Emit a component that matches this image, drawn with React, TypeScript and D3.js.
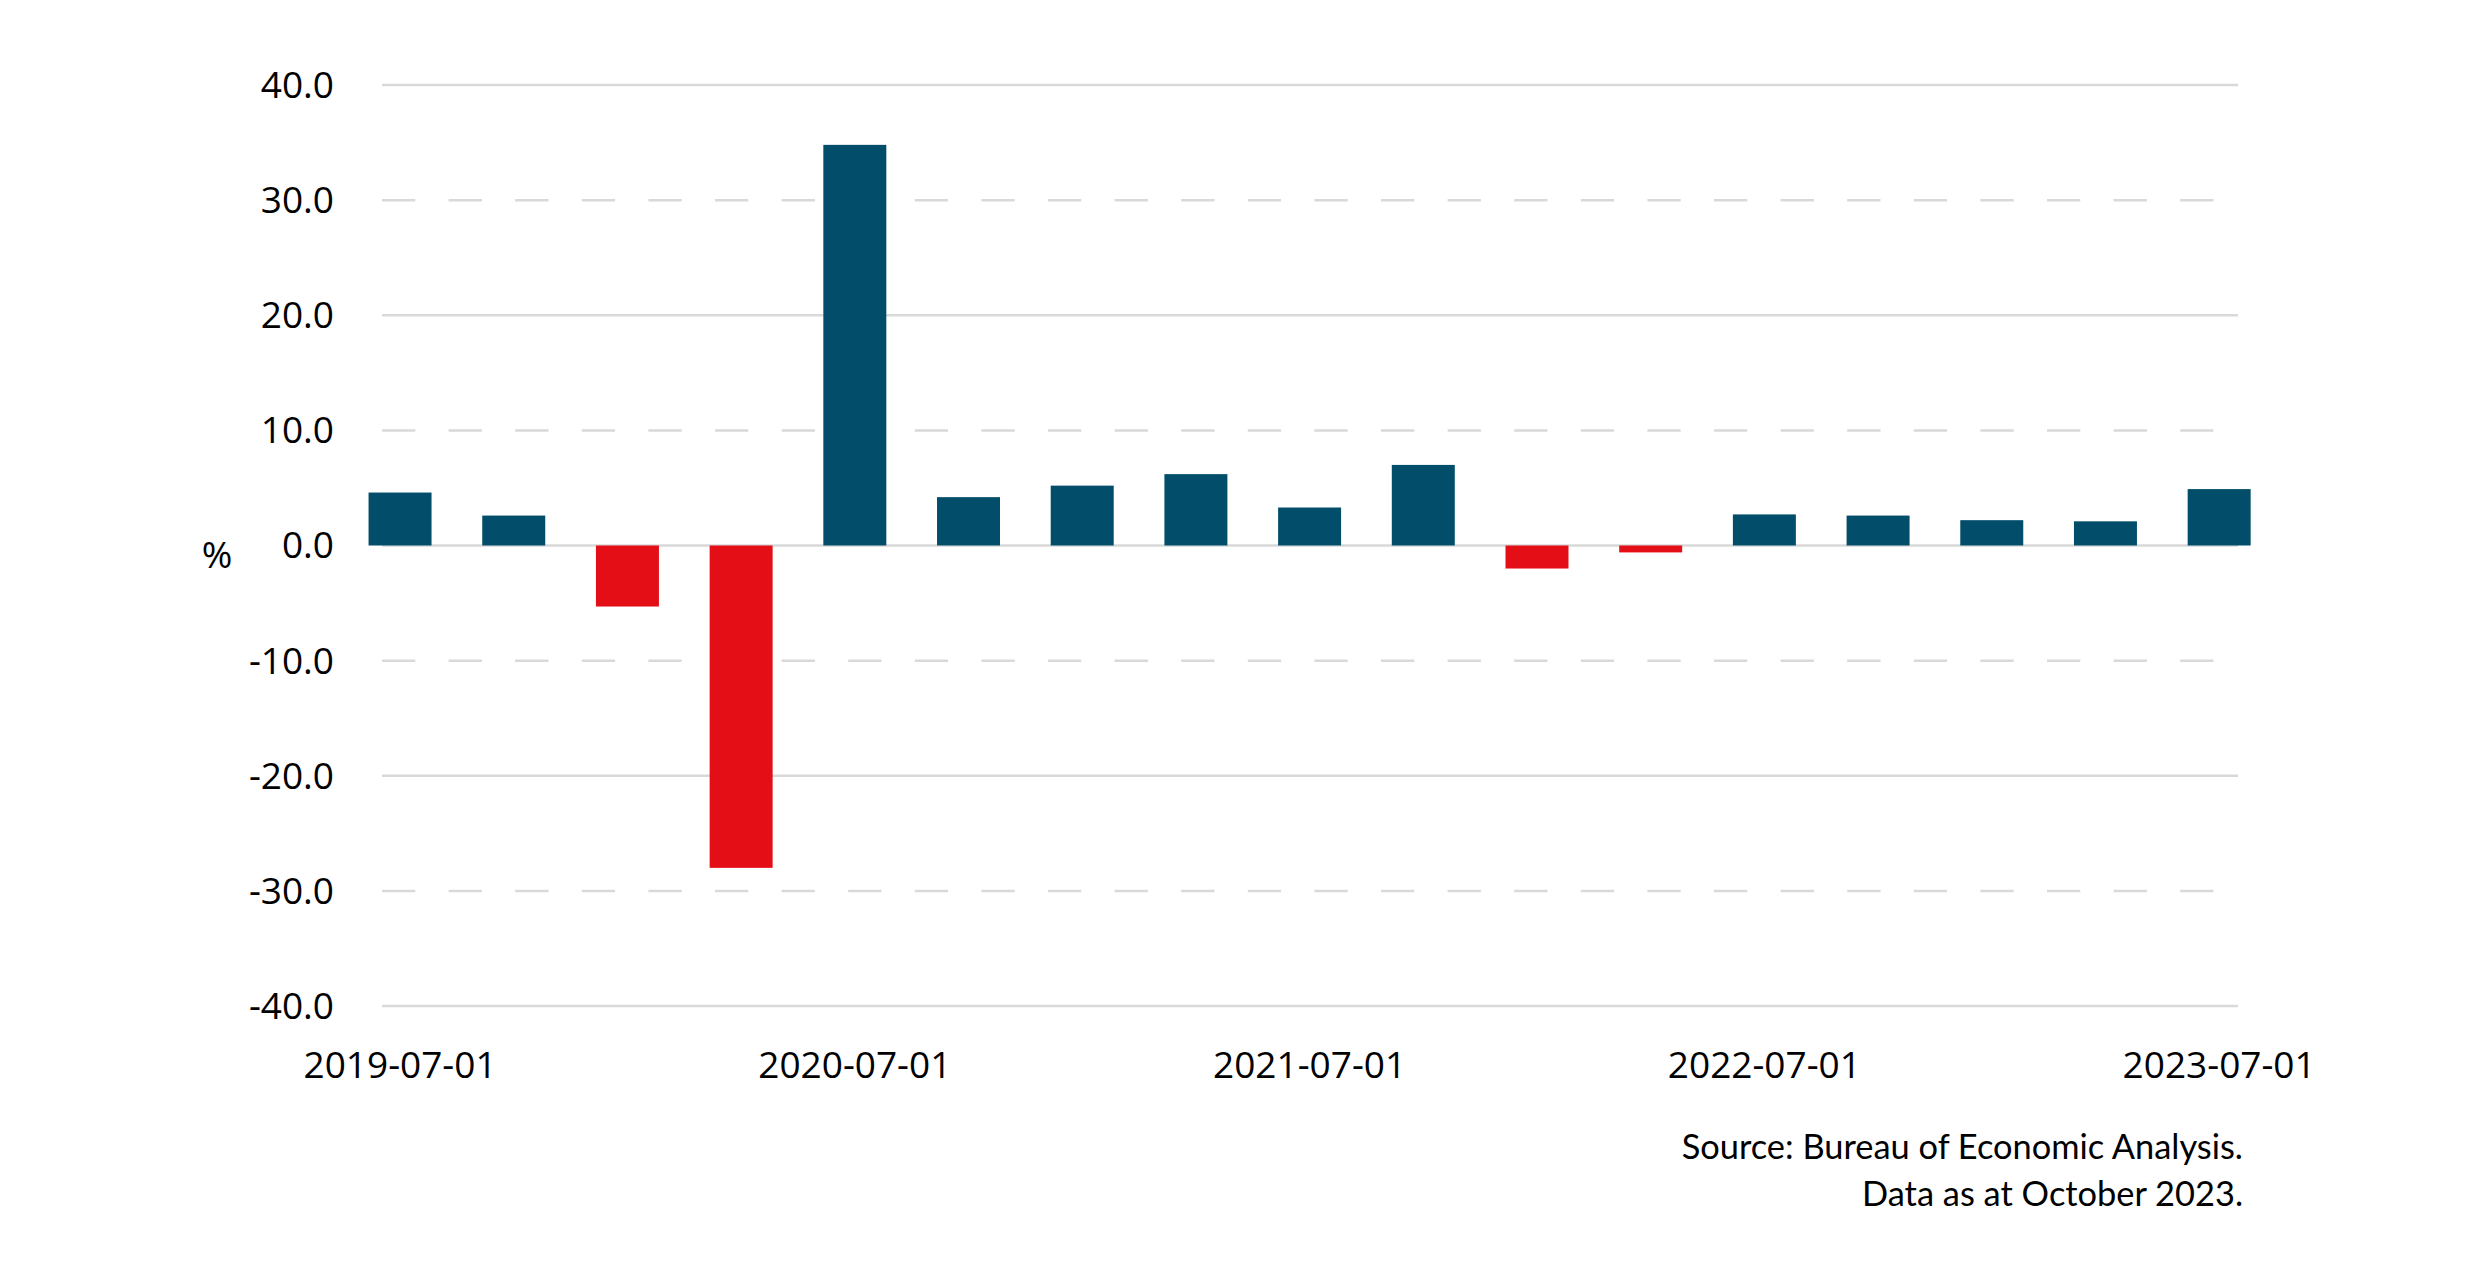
import React from "react";
import * as d3 from "d3";

const dates = [
  "2019-07-01", "2019-10-01", "2020-01-01", "2020-04-01", "2020-07-01", "2020-10-01",
  "2021-01-01", "2021-04-01", "2021-07-01", "2021-10-01", "2022-01-01", "2022-04-01",
  "2022-07-01", "2022-10-01", "2023-01-01", "2023-04-01", "2023-07-01",
];
const growth = [4.6, 2.6, -5.3, -28.0, 34.8, 4.2, 5.2, 6.2, 3.3, 7.0, -2.0, -0.6, 2.7, 2.6, 2.2, 2.1, 4.9];
const xTickLabels = ["2019-07-01", "2020-07-01", "2021-07-01", "2022-07-01", "2023-07-01"];
const yTicks = [40, 30, 20, 10, 0, -10, -20, -30, -40];
const dashedTicks = [30, 10, -10, -30];
const sourceLines = ["Source: Bureau of Economic Analysis.", "Data as at October 2023."];

const W = 2480;
const H = 1265;
const FONT = "'Open Sans', 'Noto Sans', sans-serif";

export default function App() {
  const x = d3.scaleBand<string>().domain(dates).range([343.2, 2276]).paddingInner(0.446).paddingOuter(0.223);
  const y = d3.scaleLinear().domain([-40, 40]).range([1006, 85]);
  const gridX0 = 382;
  const gridX1 = 2238;
  const dashX1 = 2216;

  return (
    <div style={{ position: "absolute", left: 0, top: 0 }}>
      <svg width={W} height={H} style={{ display: "block", background: "#fff" }}>
        {yTicks.map((t) => {
          const dashed = dashedTicks.includes(t);
          return (
            <line
              key={"g" + t}
              x1={gridX0}
              x2={dashed ? dashX1 : gridX1}
              y1={y(t)}
              y2={y(t)}
              stroke="#d9d9d9"
              strokeWidth={2.5}
              strokeDasharray={dashed ? "33.3,33.3" : undefined}
            />
          );
        })}
        {dates.map((d, i) => {
          const v = growth[i];
          const y0 = y(0);
          const yv = y(v);
          return (
            <rect
              key={d}
              x={x(d)}
              width={x.bandwidth()}
              y={Math.min(y0, yv)}
              height={Math.abs(yv - y0)}
              fill={v >= 0 ? "#024E6A" : "#E30E16"}
            />
          );
        })}
        {yTicks.map((t) => (
          <text
            key={"l" + t}
            x={334}
            y={y(t)}
            dy="0.35em"
            textAnchor="end"
            fontFamily={FONT}
            fontSize={37}
            fill="#000"
          >
            {t.toFixed(1)}
          </text>
        ))}
        <text x={217} y={555} dy="0.35em" textAnchor="middle" fontFamily={FONT} fontSize={37} fill="#000">
          %
        </text>
        {xTickLabels.map((d) => (
          <text
            key={"x" + d}
            x={(x(d) ?? 0) + x.bandwidth() / 2}
            y={1065}
            dy="0.35em"
            textAnchor="middle"
            fontFamily={FONT}
            fontSize={37}
            fill="#000"
          >
            {d}
          </text>
        ))}
        {sourceLines.map((s, i) => (
          <text
            key={s}
            x={2243}
            y={1147 + i * 47}
            dy="0.35em"
            textAnchor="end"
            fontFamily="Lato, sans-serif"
            fontSize={34.4}
            fill="#000"
          >
            {s}
          </text>
        ))}
      </svg>
    </div>
  );
}
